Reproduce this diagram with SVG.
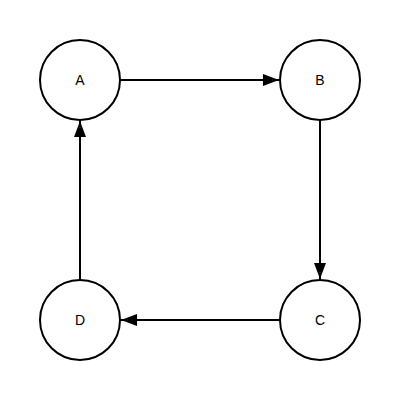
<svg xmlns="http://www.w3.org/2000/svg" width="400" height="400" viewBox="0 0 400 400">
<style>
.node circle{fill:#fff;stroke:#000;stroke-width:2}
.node text{font-family:"Liberation Sans",Arial,sans-serif;font-size:14px;fill:#000;text-anchor:middle;dominant-baseline:central}
.edge{stroke:#000;stroke-width:2;fill:none;marker-end:url(#arr)}
</style>
<defs>
<marker id="arr" markerWidth="16" markerHeight="12" refX="16" refY="6" orient="auto" markerUnits="userSpaceOnUse">
<path d="M0,0 L16,6 L0,12 Z" fill="#000"/>
</marker>
</defs>
<rect width="400" height="400" fill="#fff"/>
<g id="connectors">
<line class="edge" x1="120" y1="80" x2="279" y2="80"/>
<line class="edge" x1="320" y1="120" x2="320" y2="279"/>
<line class="edge" x1="280" y1="320" x2="121" y2="320"/>
<line class="edge" x1="80" y1="280" x2="80" y2="121"/>
</g>
<g id="A" class="node"><circle cx="80" cy="80" r="40"/><text x="80" y="80">A</text></g>
<g id="B" class="node"><circle cx="320" cy="80" r="40"/><text x="320" y="80">B</text></g>
<g id="C" class="node"><circle cx="320" cy="320" r="40"/><text x="320" y="320">C</text></g>
<g id="D" class="node"><circle cx="80" cy="320" r="40"/><text x="80" y="320">D</text></g>
</svg>
